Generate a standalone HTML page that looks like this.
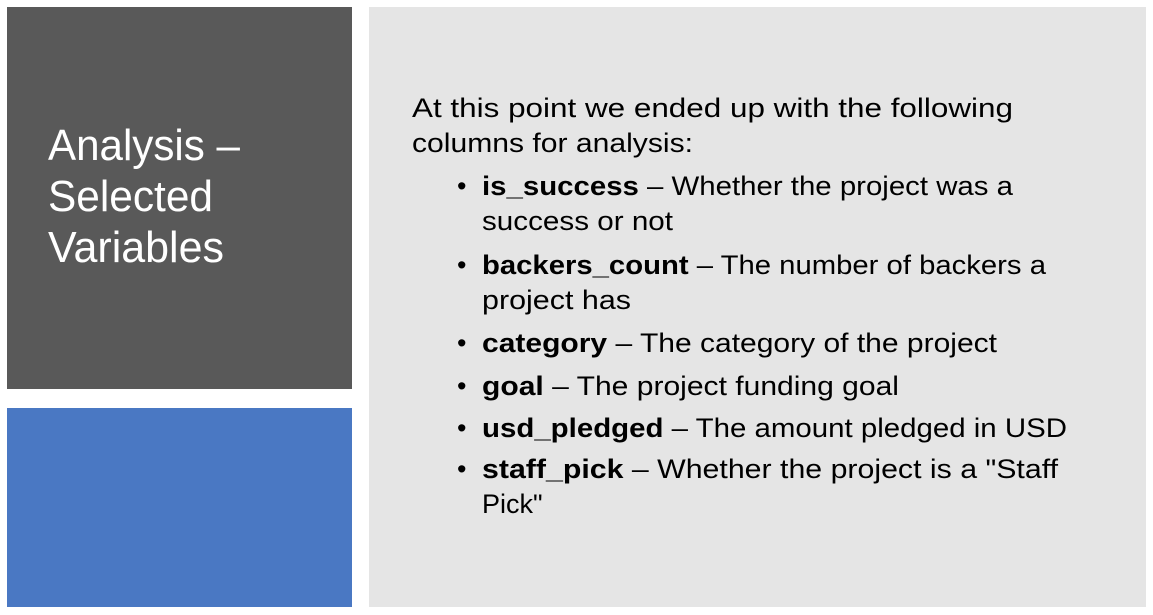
<!DOCTYPE html>
<html><head><meta charset="utf-8"><style>
html,body{margin:0;padding:0;background:#fff;}
svg{display:block;}
text{font-family:"Liberation Sans",sans-serif;}
</style></head><body>
<svg width="1153" height="615" viewBox="0 0 1153 615">
<rect x="7" y="7" width="345" height="382" fill="#595959"/>
<rect x="7" y="408" width="345" height="199" fill="#4a78c3"/>
<rect x="369" y="7" width="777" height="600" fill="#e5e5e5"/>
<g fill="#ffffff" font-size="44">
<text x="48" y="160" textLength="192" lengthAdjust="spacingAndGlyphs">Analysis –</text>
<text x="48" y="211" textLength="165" lengthAdjust="spacingAndGlyphs">Selected</text>
<text x="48" y="262" textLength="176" lengthAdjust="spacingAndGlyphs">Variables</text>
</g>
<g fill="#000" font-size="27">
<text x="412" y="117" textLength="601" lengthAdjust="spacingAndGlyphs">At this point we ended up with the following</text>
<text x="412" y="152" textLength="281" lengthAdjust="spacingAndGlyphs">columns for analysis:</text>
<g>
<text x="457" y="195">•</text>
<text x="482" y="195" textLength="531" lengthAdjust="spacingAndGlyphs"><tspan font-weight="bold">is_success</tspan> – Whether the project was a</text>
<text x="482" y="230" textLength="191" lengthAdjust="spacingAndGlyphs">success or not</text>
<text x="457" y="274">•</text>
<text x="482" y="274" textLength="564" lengthAdjust="spacingAndGlyphs"><tspan font-weight="bold">backers_count</tspan> – The number of backers a</text>
<text x="482" y="309" textLength="149" lengthAdjust="spacingAndGlyphs">project has</text>
<text x="457" y="352">•</text>
<text x="482" y="352" textLength="515" lengthAdjust="spacingAndGlyphs"><tspan font-weight="bold">category</tspan> – The category of the project</text>
<text x="457" y="395">•</text>
<text x="482" y="395" textLength="417" lengthAdjust="spacingAndGlyphs"><tspan font-weight="bold">goal</tspan> – The project funding goal</text>
<text x="457" y="437">•</text>
<text x="482" y="437" textLength="585" lengthAdjust="spacingAndGlyphs"><tspan font-weight="bold">usd_pledged</tspan> – The amount pledged in USD</text>
<text x="457" y="478">•</text>
<text x="482" y="478" textLength="576" lengthAdjust="spacingAndGlyphs"><tspan font-weight="bold">staff_pick</tspan> – Whether the project is a "Staff</text>
<text x="482" y="513">Pick"</text>
</g>
</g>
</svg>
</body></html>
